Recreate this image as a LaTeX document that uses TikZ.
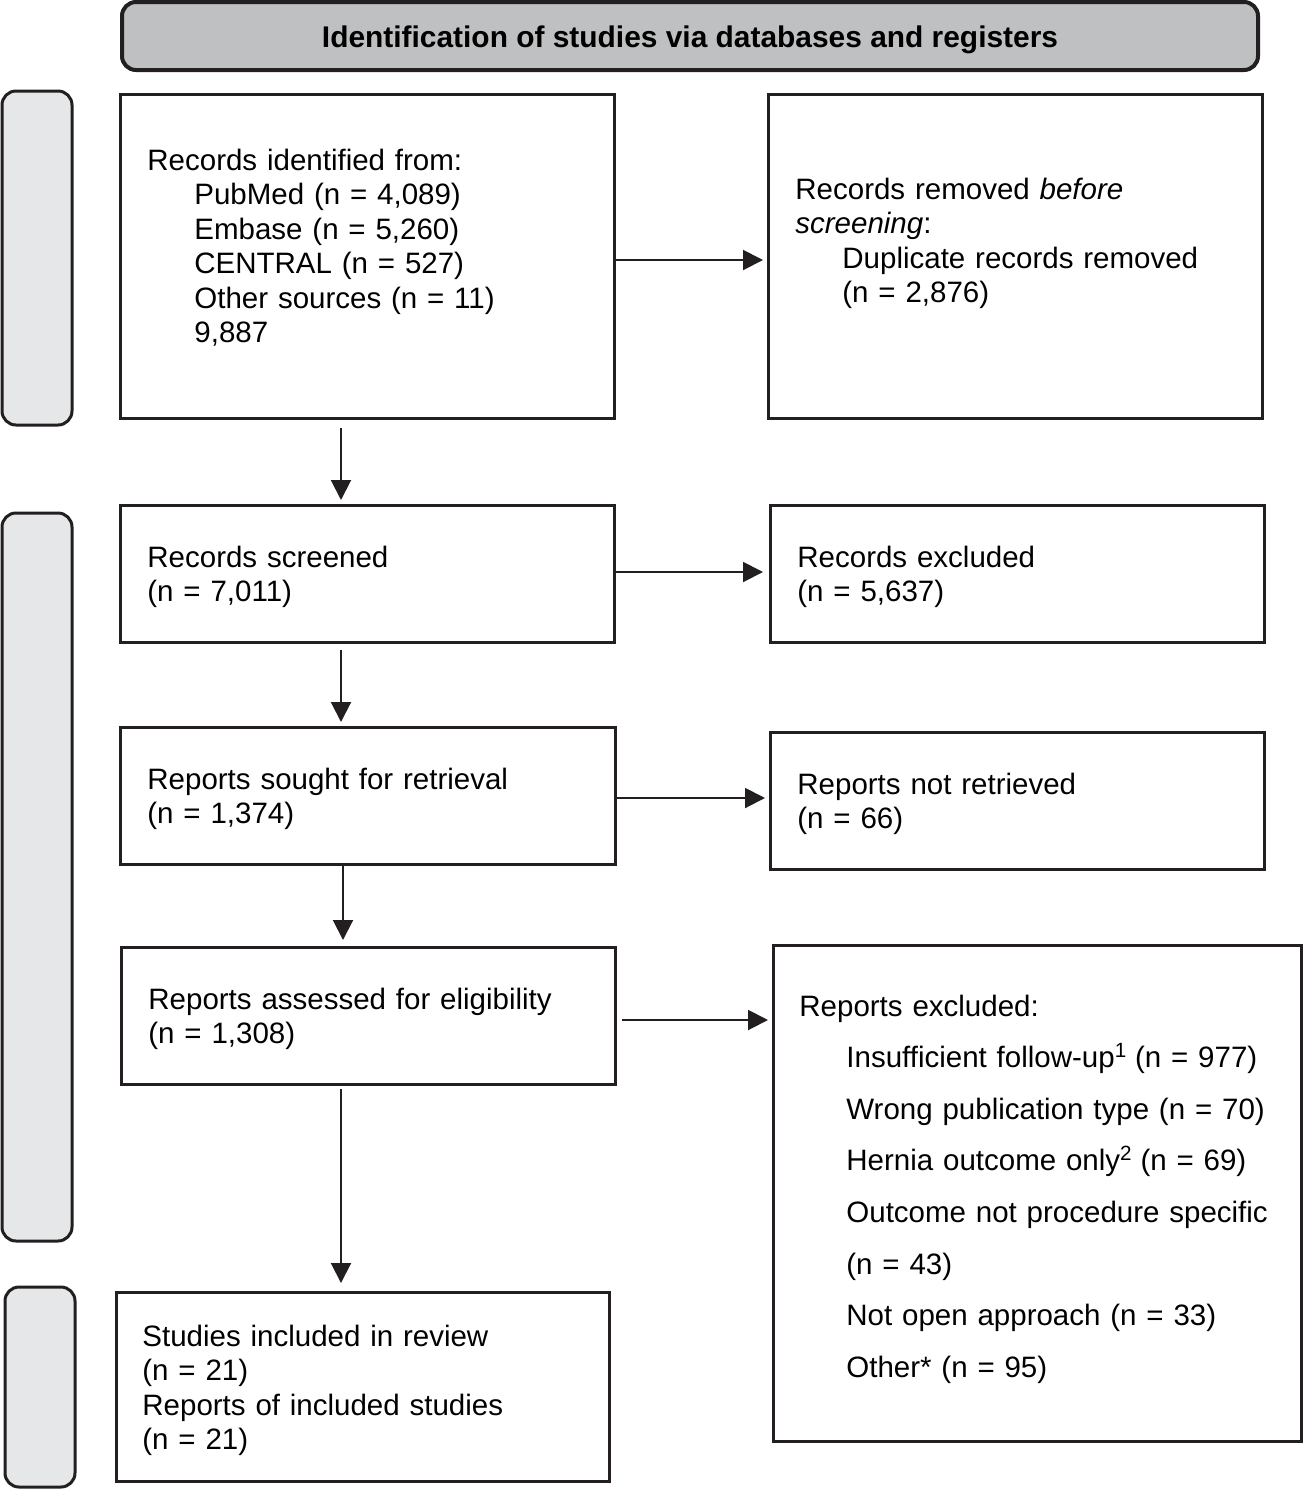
\documentclass[tikz,border=0pt]{standalone}
\usepackage{fontspec}
\setmainfont{Liberation Sans}
\usetikzlibrary{arrows.meta}
\definecolor{bordc}{HTML}{231F20}
\definecolor{titlefill}{HTML}{BFC0C2}
\definecolor{sidefill}{HTML}{E6E7E9}
\begin{document}
\begin{tikzpicture}[x=0.5pt,y=-0.5pt,
  box/.style={draw=bordc,line width=1.5pt,inner sep=0pt,outer sep=0pt,anchor=north west},
  sidebox/.style={draw=bordc,line width=1.5pt,fill=sidefill,rounded corners=7pt,inner sep=0pt,outer sep=0pt,anchor=north west,minimum width=35pt},
  txt/.style={anchor=base west,inner sep=0pt,align=left,text width=255pt,font=\fontsize{14.75pt}{17.25pt}\selectfont},
  arr/.style={draw=bordc,line width=1pt,-{Triangle[length=10pt,width=10pt]}}
]
\useasboundingbox (0,0) rectangle (1303,1490);
% title
\node[draw=bordc,line width=2pt,fill=titlefill,rounded corners=7pt,anchor=north west,inner sep=0pt,outer sep=0pt,minimum width=568pt,minimum height=34pt] (title) at (122,2) {};
\node[anchor=base,inner sep=0pt,font=\fontsize{14.95pt}{17pt}\selectfont\bfseries] (titletxt) at (690,47) {Identification of studies via databases and registers};
% side boxes
\node[sidebox,minimum height=167pt] (s1) at (2,91) {};
\node[sidebox,minimum height=364pt] (s2) at (2,513) {};
\node[sidebox,minimum height=100pt] (s3) at (5,1287) {};
% main boxes
\node[box,minimum width=247pt,minimum height=162pt] (A) at (120,94) {};
\node[box,minimum width=247pt,minimum height=162pt] (B) at (768,94) {};
\node[box,minimum width=247pt,minimum height=68.5pt] (C) at (120,505) {};
\node[box,minimum width=247pt,minimum height=68.5pt] (D) at (770,505) {};
\node[box,minimum width=247.5pt,minimum height=68.5pt] (E) at (120,727) {};
\node[box,minimum width=247pt,minimum height=68.5pt] (F) at (770,732) {};
\node[box,minimum width=247pt,minimum height=68.5pt] (G) at (121,947) {};
\node[box,minimum width=264pt,minimum height=248pt] (H) at (773,945) {};
\node[box,minimum width=246.5pt,minimum height=94.5pt] (I) at (116,1292) {};
% texts
\node[txt] (tA) at (147,170) {Records identified from:\\
\hspace*{23.5pt}PubMed (n = 4,089)\\
\hspace*{23.5pt}Embase (n = 5,260)\\
\hspace*{23.5pt}CENTRAL (n = 527)\\
\hspace*{23.5pt}Other sources (n = 11)\\
\hspace*{23.5pt}9,887};
\node[txt] (tB) at (795,199) {Records removed \textit{before}\\
\textit{screening}:\\
\hspace*{23.5pt}Duplicate records removed\\
\hspace*{23.5pt}(n = 2,876)};
\node[txt] (tC) at (147,567) {Records screened\\(n = 7,011)};
\node[txt] (tD) at (797,567) {Records excluded\\(n = 5,637)};
\node[txt] (tE) at (147,789) {Reports sought for retrieval\\(n = 1,374)};
\node[txt] (tF) at (797,794) {Reports not retrieved\\(n = 66)};
\node[txt] (tG) at (148,1009) {Reports assessed for eligibility\\(n = 1,308)};
\node[txt,font=\fontsize{14.75pt}{25.8pt}\selectfont] (tH) at (799,1016) {Reports excluded:\\
\hspace*{23.5pt}Insufficient follow-up\textsuperscript{1}\hspace{-1pt} (n = 977)\\
\hspace*{23.5pt}Wrong publication type (n = 70)\\
\hspace*{23.5pt}Hernia outcome only\textsuperscript{2}\hspace{-1pt} (n = 69)\\
\hspace*{23.5pt}Outcome not procedure specific\\
\hspace*{23.5pt}(n = 43)\\
\hspace*{23.5pt}Not open approach (n = 33)\\
\hspace*{23.5pt}Other* (n = 95)};
\node[txt] (tI) at (142,1346) {Studies included in review\\(n = 21)\\Reports of included studies\\(n = 21)};
% arrows
\draw[arr,shorten >=2.5pt] ([yshift=-2pt]A.east) -- ([yshift=-2pt]A.east -| B.west);
\draw[arr,shorten <=5pt,shorten >=2.5pt] ([xshift=-13pt]A.south) -- ([xshift=-13pt]A.south |- C.north);
\draw[arr,shorten >=3.5pt] ([yshift=0.75pt]C.east) -- ([yshift=0.75pt]C.east -| D.west);
\draw[arr,shorten <=4pt,shorten >=2.5pt] ([xshift=-13pt]C.south) -- ([xshift=-13pt]C.south |- E.north);
\draw[arr,shorten <=1pt,shorten >=2.5pt] ([yshift=-1.25pt]E.east) -- ([yshift=-1.25pt]E.east -| F.west);
\draw[arr,shorten <=1pt,shorten >=3.5pt] ([xshift=-12.25pt]E.south) -- ([xshift=-12.25pt]E.south |- G.north);
\draw[arr,shorten <=3.5pt,shorten >=2.5pt] ([yshift=-2.25pt]G.east) -- ([yshift=-2.25pt]G.east -| H.west);
\draw[arr,shorten <=2.5pt,shorten >=4.5pt] ([xshift=-13.5pt]G.south) -- ([xshift=-13.5pt]G.south |- I.north);
\end{tikzpicture}
\end{document}
